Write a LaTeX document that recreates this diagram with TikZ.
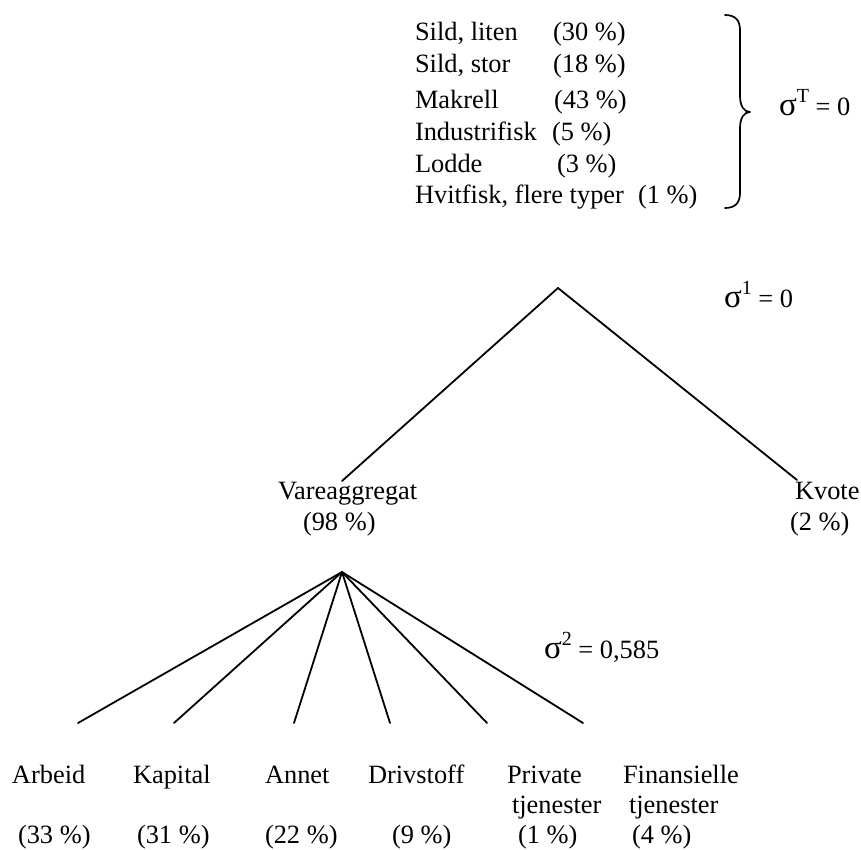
\documentclass[tikz,border=0pt]{standalone}
\usepackage{fontspec}
\setmainfont{Liberation Serif}
\newcommand\txt{\fontsize{26.4}{30}\selectfont}
\newcommand\sig[1]{{\fontsize{33}{33}\selectfont σ}\raisebox{13pt}{\fontsize{20}{20}\selectfont #1}}
\tikzset{
  lbl/.style={inner sep=0pt, outer sep=0pt, anchor=base west, font=\txt},
  branch/.style={line width=1.8pt, line cap=round},
  bracket/.style={line width=1.7pt, line cap=round, line join=round},
}
\begin{document}
\begin{tikzpicture}[x=1pt, y=-1pt]
  \useasboundingbox (0,0) rectangle (861,849);

  % fish species and their shares
  \node[lbl] (sl)  at (415,40)  {Sild, liten};
  \node[lbl] (slp) at (553,40)  {(30 \%)};
  \node[lbl] (ss)  at (415,72)  {Sild, stor};
  \node[lbl] (ssp) at (553,72)  {(18 \%)};
  \node[lbl] (mk)  at (415,108) {Makrell};
  \node[lbl] (mkp) at (554,108) {(43 \%)};
  \node[lbl] (in)  at (415,140) {Industrifisk};
  \node[lbl] (inp) at (552,140) {(5 \%)};
  \node[lbl] (lo)  at (415,172) {Lodde};
  \node[lbl] (lop) at (557,172) {(3 \%)};
  \node[lbl] (hv)  at (415,203) {Hvitfisk, flere typer};
  \node[lbl] (hvp) at (638,203) {(1 \%)};

  % curly brace grouping the species
  \draw[bracket] (725,15) .. controls (735,15) and (740,20) .. (740,30)
    -- (740,96) .. controls (740,106) and (744,112) .. (750,112)
    .. controls (744,112) and (740,118) .. (740,128)
    -- (740,193) .. controls (740,203) and (735,208) .. (725,208);
  \node[lbl] (sT) at (779,115) {\sig{T} = 0};

  % upper level: goods aggregate and quota
  \coordinate (top) at (558,288);
  \coordinate (vaEnd) at (342,481);
  \coordinate (kvEnd) at (797,480);
  \draw[branch] (vaEnd) -- (top) -- (kvEnd);
  \node[lbl] (s1) at (724,307) {\sig{1} = 0};

  \node[lbl] (va)  at (278,499) {Vareaggregat};
  \node[lbl] (vap) at (303,530) {(98 \%)};
  \node[lbl] (kv)  at (795,499) {Kvote};
  \node[lbl] (kvp) at (790,530) {(2 \%)};

  % lower level: inputs of the goods aggregate
  \coordinate (low) at (342,572);
  \coordinate (e1) at (78,723);
  \coordinate (e2) at (174,723);
  \coordinate (e3) at (294,723);
  \coordinate (e4) at (390,723);
  \coordinate (e5) at (487,723);
  \coordinate (e6) at (583,723);
  \foreach \e in {e1,e2,e3,e4,e5,e6}
    \draw[branch] (low) -- (\e);
  \node[lbl] (s2) at (544,658) {\sig{2} = 0,585};

  \node[lbl] (ar)  at (12,783)  {Arbeid};
  \node[lbl] (ka)  at (133,783) {Kapital};
  \node[lbl] (an)  at (265,783) {Annet};
  \node[lbl] (dr)  at (368,783) {Drivstoff};
  \node[lbl] (pr)  at (507,783) {Private};
  \node[lbl] (prt) at (512,813) {tjenester};
  \node[lbl] (fi)  at (623,783) {Finansielle};
  \node[lbl] (fit) at (629,813) {tjenester};

  \node[lbl] (arp) at (18,843)  {(33 \%)};
  \node[lbl] (kap) at (137,843) {(31 \%)};
  \node[lbl] (anp) at (265,843) {(22 \%)};
  \node[lbl] (drp) at (392,843) {(9 \%)};
  \node[lbl] (prp) at (518,843) {(1 \%)};
  \node[lbl] (fip) at (632,843) {(4 \%)};
\end{tikzpicture}
\end{document}
